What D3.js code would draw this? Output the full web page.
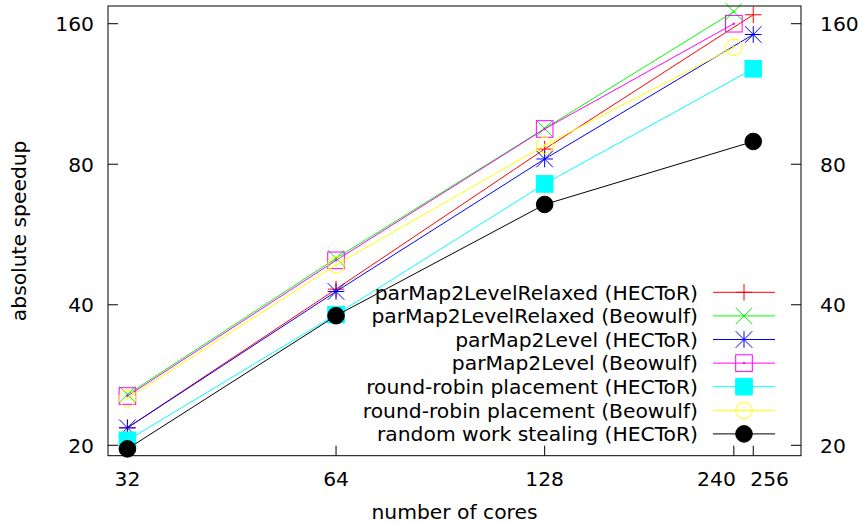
<!DOCTYPE html>
<html>
<head>
<meta charset="utf-8">
<script src="https://cdn.jsdelivr.net/npm/d3@7"></script>
<style>
  body { margin: 0; background: #fff; }
  text { font-family: "DejaVu Sans", sans-serif; font-size: 20.3px; fill: #000; }
</style>
</head>
<body>
<svg width="861" height="524"></svg>
<script>
// core counts per machine
const coresHECToR = [32, 64, 128, 256];
const coresBeowulf = [32, 64, 128, 240];

// absolute speedup per series
const relaxedHECToR = [21.8, 43.2, 86.2, 167.2];
const relaxedBeowulf = [25.7, 50.3, 95.4, 169.8];
const levelHECToR = [21.8, 42.7, 82.1, 151.7];
const levelBeowulf = [25.5, 49.8, 95.2, 160];
const roundRobinHECToR = [20.5, 38.1, 72.6, 128.1];
const roundRobinBeowulf = [25.2, 48.7, 87.8, 142.4];
const workStealingHECToR = [19.65, 37.9, 65.6, 89.5];

const seriesNames = [
  "parMap2LevelRelaxed (HECToR)",
  "parMap2LevelRelaxed (Beowulf)",
  "parMap2Level (HECToR)",
  "parMap2Level (Beowulf)",
  "round-robin placement (HECToR)",
  "round-robin placement (Beowulf)",
  "random work stealing (HECToR)",
];

const xTicks = [32, 64, 128, 240, 256];
const yTicks = [20, 40, 80, 160];

const series = [
  { name: seriesNames[0], xs: coresHECToR, ys: relaxedHECToR, color: "#ff0000", mark: "plus" },
  { name: seriesNames[1], xs: coresBeowulf, ys: relaxedBeowulf, color: "#00ff00", mark: "cross" },
  { name: seriesNames[2], xs: coresHECToR, ys: levelHECToR, color: "#0000ff", mark: "star" },
  { name: seriesNames[3], xs: coresBeowulf, ys: levelBeowulf, color: "#ff00ff", mark: "box" },
  { name: seriesNames[4], xs: coresHECToR, ys: roundRobinHECToR, color: "#00ffff", mark: "fbox" },
  { name: seriesNames[5], xs: coresBeowulf, ys: roundRobinBeowulf, color: "#ffff00", mark: "circle" },
  { name: seriesNames[6], xs: coresHECToR, ys: workStealingHECToR, color: "#000000", mark: "fcircle" },
];

const plot = { left: 108, right: 801, top: 6, bottom: 455.7 };

const x = d3.scaleLog().base(2).domain([30, 300]).range([plot.left, plot.right]);
const y = d3.scaleLog().base(2).domain([19.0, 174.6]).range([plot.bottom, plot.top]);

const svg = d3.select("svg");
const tickLen = 10;

// Draw a gnuplot-style point symbol into a group
function drawMark(g, type, color) {
  const h = 8.3;
  if (type === "plus" || type === "star") {
    g.append("path").attr("d", `M${-h},0H${h}M0,${-h}V${h}`);
  }
  if (type === "cross" || type === "star") {
    g.append("path").attr("d", `M${-h},${-h}L${h},${h}M${-h},${h}L${h},${-h}`);
  }
  if (type === "box" || type === "fbox") {
    g.append("rect").attr("x", -h).attr("y", -h).attr("width", 2 * h).attr("height", 2 * h)
      .attr("fill", type === "fbox" ? color : "none");
  }
  if (type === "circle" || type === "fcircle") {
    g.append("circle").attr("r", h).attr("fill", type === "fcircle" ? color : "none");
  }
  if (type === "cross" || type === "box" || type === "circle") {
    g.append("circle").attr("r", 0.8).attr("fill", color);
  }
  g.attr("stroke", color).attr("stroke-width", 1).attr("fill", "none");
}

// Ticks (inward), y on both sides, x on bottom only
const axes = svg.append("g").attr("stroke", "#000").attr("stroke-width", 1);
yTicks.forEach((v) => {
  axes.append("line").attr("x1", plot.left).attr("x2", plot.left + tickLen).attr("y1", y(v)).attr("y2", y(v));
  axes.append("line").attr("x1", plot.right).attr("x2", plot.right - tickLen).attr("y1", y(v)).attr("y2", y(v));
});
xTicks.forEach((v) => {
  axes.append("line").attr("x1", x(v)).attr("x2", x(v)).attr("y1", plot.bottom).attr("y2", plot.bottom - tickLen);
});

// Tick labels
svg.append("g").selectAll("text").data(yTicks).enter().append("text")
  .attr("x", plot.left - 14).attr("y", (d) => y(d)).attr("dy", "0.36em")
  .attr("text-anchor", "end").text((d) => d);
svg.append("g").selectAll("text").data(yTicks).enter().append("text")
  .attr("x", plot.right + 19).attr("y", (d) => y(d)).attr("dy", "0.36em")
  .attr("text-anchor", "start").text((d) => d);
// 240 and 256 sit close together, so push them apart
const xLabelAnchor = (d) => (d === 240 ? "end" : d === 256 ? "start" : "middle");
const xLabelShift = (d) => (d === 240 ? 2 : d === 256 ? -3 : 0);
svg.append("g").selectAll("text").data(xTicks).enter().append("text")
  .attr("x", (d) => x(d) + xLabelShift(d)).attr("y", 486)
  .attr("text-anchor", xLabelAnchor).text((d) => d);

// Axis titles
svg.append("text").attr("x", (plot.left + plot.right) / 2).attr("y", 519)
  .attr("text-anchor", "middle").text("number of cores");
svg.append("text").attr("transform", `translate(26, ${(plot.top + plot.bottom) / 2}) rotate(-90)`)
  .attr("text-anchor", "middle").text("absolute speedup");

// Series lines and points
const line = d3.line().x((d) => x(d[0])).y((d) => y(d[1]));
series.forEach((s) => {
  const pts = s.xs.map((c, i) => [c, s.ys[i]]);
  svg.append("path").attr("d", line(pts)).attr("fill", "none")
    .attr("stroke", s.color).attr("stroke-width", 1);
  pts.forEach((p) => {
    const g = svg.append("g").attr("transform", `translate(${x(p[0])}, ${y(p[1])})`);
    drawMark(g, s.mark, s.color);
  });
});

// Legend
const legend = svg.append("g");
series.forEach((s, i) => {
  const ly = 292.3 + i * 23.6;
  legend.append("text").attr("x", 698).attr("y", ly).attr("dy", "0.36em")
    .attr("text-anchor", "end").text(s.name);
  legend.append("line").attr("x1", 713).attr("x2", 775).attr("y1", ly).attr("y2", ly)
    .attr("stroke", s.color).attr("stroke-width", 1);
  drawMark(legend.append("g").attr("transform", `translate(744, ${ly})`), s.mark, s.color);
});

// Frame
svg.append("rect").attr("x", plot.left).attr("y", plot.top)
  .attr("width", plot.right - plot.left).attr("height", plot.bottom - plot.top)
  .attr("fill", "none").attr("stroke", "#000").attr("stroke-width", 1);
</script>
</body>
</html>
